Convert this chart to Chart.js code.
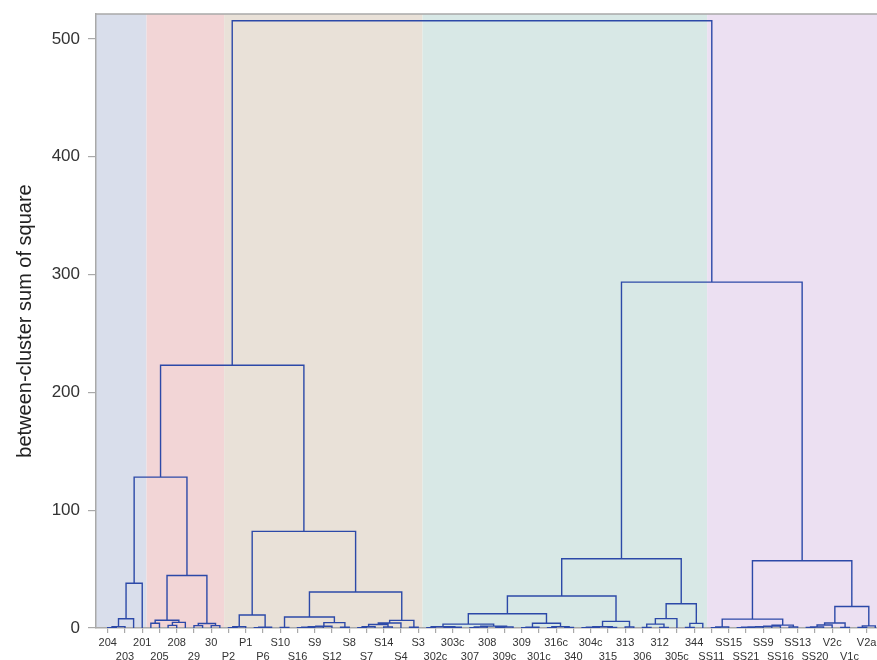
<!DOCTYPE html>
<html><head><meta charset="utf-8">
<script src="https://cdn.jsdelivr.net/npm/chart.js@4"></script>
<style>html,body{margin:0;padding:0;background:#fff;}canvas{display:block;}</style>
</head><body>
<canvas id="c" width="877" height="660"></canvas>
<script>
// Tick labels (one per labelled leaf; leaves sit at half-tick slots)
const tickLabels = ['204','203','201','205','208','29','30','P2','P1','P6','S10','S16','S9','S12','S8','S7','S14','S4','S3',
  '302c','303c','307','308','309c','309','301c','316c','340','304c','315','313','306','312','305c','344',
  'SS11','SS15','SS21','SS9','SS16','SS13','SS20','V2c','V1c','V2a'];

// Tree nodes: [left, right, mergeHeight]; a leaf is its slot position on the tick axis
const blueTree  = [[[[0, 0.5, 0.3], 1, 1.2], 1.5, 7.8], 2, 38.0];
const pinkTree  = [[[2.5, 3, 4.0], [[3.5, 4, 2.2], 4.5, 4.8], 6.6], [[5, 5.5, 2.0], [6, 6.5, 2.0], 3.8], 44.6];
const beigeP    = [[[7, 7.5, 0.3], 8, 1.0], [[8.5, 9, 0.3], 9.5, 0.6], 11.0];
const beigeSL   = [[10, 10.5, 0.5], [[[[[11, 11.5, 0.3], 12, 0.6], 12.5, 1.0], 13, 1.5], [13.5, 14, 0.6], 4.6], 9.3];
const beigeSR   = [[[[[14.5, 15, 0.3], 15.5, 1.0], [16, 16.5, 0.8], 3.0], 17, 4.2], [17.5, 18, 0.7], 6.5];
const tealLA    = [[[[18.5, 19, 0.3], [[19.5, 20, 0.2], 20.5, 0.6], 1.0], [[[21, 21.5, 0.3], 22, 0.8], [[22.5, 23, 0.4], 23.5, 0.9], 1.6], 3.3],
                   [[[24, 24.5, 0.3], 25, 0.7], [[25.5, 26, 0.3], [26.5, 27, 0.5], 1.2], 4.0], 12.1];
const tealLB    = [[[[27.5, 28, 0.3], 28.5, 0.6], [29, 29.5, 0.4], 1.0], [30, 30.5, 0.8], 5.6];
const tealR     = [[[[31, 31.5, 0.4], [32, 32.5, 0.5], 3.3], 33, 8.0], [[33.5, 34, 0.5], 34.5, 3.9], 20.6];
const lavLeft   = [[[35, 35.5, 0.3], 36, 0.8], [[[[[[36.5, 37, 0.3], 37.5, 0.6], 38, 0.9], 38.5, 1.2], 39, 1.6], [39.5, 40, 0.8], 2.4], 7.5];
const lavRight  = [[[[[40.5, 41, 0.4], 41.5, 0.8], 42, 2.6], [42.5, 43, 0.5], 4.2], [[43.5, 44, 0.4], 44.5, 1.8], 18.3];

// Upper merges (heights)
const upperHeights = { bluePink: 128.1, beigeS: 30.5, beige: 82.0, left: 223.1, tealL: 27.2, teal: 58.8, lav: 57.1, right: 293.6, root: 515.5 };

const beigeTree = [beigeP, [beigeSL, beigeSR, upperHeights.beigeS], upperHeights.beige];
const tealTree  = [[tealLA, tealLB, upperHeights.tealL], tealR, upperHeights.teal];
const lavTree   = [lavLeft, lavRight, upperHeights.lav];
const clusters  = [blueTree, pinkTree, beigeTree, tealTree, lavTree];
const bandColors = ['#d9deeb', '#f2d5d6', '#e9e1d8', '#d8e8e6', '#ece0f2'];
const rootTree = [[[blueTree, pinkTree, upperHeights.bluePink], beigeTree, upperHeights.left],
                  [tealTree, lavTree, upperHeights.right], upperHeights.root];

const xMin = -0.68, xMax = 44.6, yMax = 521.2;

function walk(node, pts) {
  if (typeof node === 'number') return { x: node, y: 0, lo: node, hi: node };
  const a = walk(node[0], pts), b = walk(node[1], pts), h = node[2];
  pts.push({x: a.x, y: a.y}, {x: a.x, y: h}, {x: b.x, y: h}, {x: b.x, y: b.y}, {x: b.x, y: null});
  return { x: (a.x + b.x) / 2, y: h, lo: Math.min(a.lo, b.lo), hi: Math.max(a.hi, b.hi) };
}
const linePts = [];
walk(rootTree, linePts);
const bands = clusters.map((c, i) => {
  const r = walk(c, []);
  return { lo: i === 0 ? xMin : r.lo - 0.25, hi: i === clusters.length - 1 ? xMax : r.hi + 0.25, color: bandColors[i] };
});

const bandPlugin = {
  id: 'bands',
  beforeDraw(chart) {
    const { ctx, chartArea: ca, scales: { x } } = chart;
    ctx.save();
    bands.forEach(b => {
      const x0 = Math.max(ca.left, x.getPixelForValue(b.lo));
      const x1 = Math.min(ca.right, x.getPixelForValue(b.hi));
      ctx.fillStyle = b.color;
      ctx.fillRect(x0, ca.top, x1 - x0, ca.bottom - ca.top);
    });
    ctx.strokeStyle = '#a9a9a9';
    ctx.lineWidth = 1.5;
    ctx.beginPath();
    ctx.moveTo(ca.left, ca.top);
    ctx.lineTo(ca.right, ca.top);
    ctx.stroke();
    ctx.restore();
  }
};

const FONT = '"Liberation Sans", Arial, sans-serif';
new Chart(document.getElementById('c'), {
  type: 'line',
  data: { datasets: [{ data: linePts, borderColor: '#2c49a8', borderWidth: 1.4, pointRadius: 0, tension: 0, spanGaps: false, fill: false, borderCapStyle: 'butt', borderJoinStyle: 'miter' }] },
  options: {
    responsive: false, animation: false, events: [],
    layout: { padding: { top: 14, left: 0, right: 0, bottom: 0 } },
    plugins: { legend: { display: false }, tooltip: { enabled: false } },
    scales: {
      x: {
        type: 'linear', min: xMin, max: xMax,
        afterBuildTicks: s => { s.ticks = tickLabels.map((_, i) => ({ value: i })); },
        afterFit: s => { s.height = 32; s.paddingLeft = 0; s.paddingRight = 0; },
        ticks: {
          autoSkip: false, maxRotation: 0, minRotation: 0, padding: 3, color: '#333',
          font: { family: FONT, size: 11, lineHeight: 1.27 },
          callback: v => { const i = Math.round(v); return i % 2 ? ['', tickLabels[i]] : tickLabels[i]; }
        },
        grid: { drawOnChartArea: false, drawTicks: true, tickLength: 5, color: '#a9a9a9', lineWidth: 1.2 },
        border: { display: true, color: '#a9a9a9', width: 1.5 }
      },
      y: {
        type: 'linear', min: 0, max: yMax,
        afterFit: s => { s.width = 96; s.paddingTop = 0; s.paddingBottom = 0; },
        ticks: { stepSize: 100, includeBounds: false, padding: 8, color: '#333', font: { family: FONT, size: 17 } },
        grid: { drawOnChartArea: false, drawTicks: true, tickLength: 8, color: '#a9a9a9', lineWidth: 1.2 },
        border: { display: true, color: '#a9a9a9', width: 1.5 },
        title: { display: true, text: 'between-cluster sum of square', color: '#222', font: { family: FONT, size: 20 }, padding: { top: 13, bottom: 0 } }
      }
    }
  },
  plugins: [bandPlugin]
});
</script>
</body></html>
